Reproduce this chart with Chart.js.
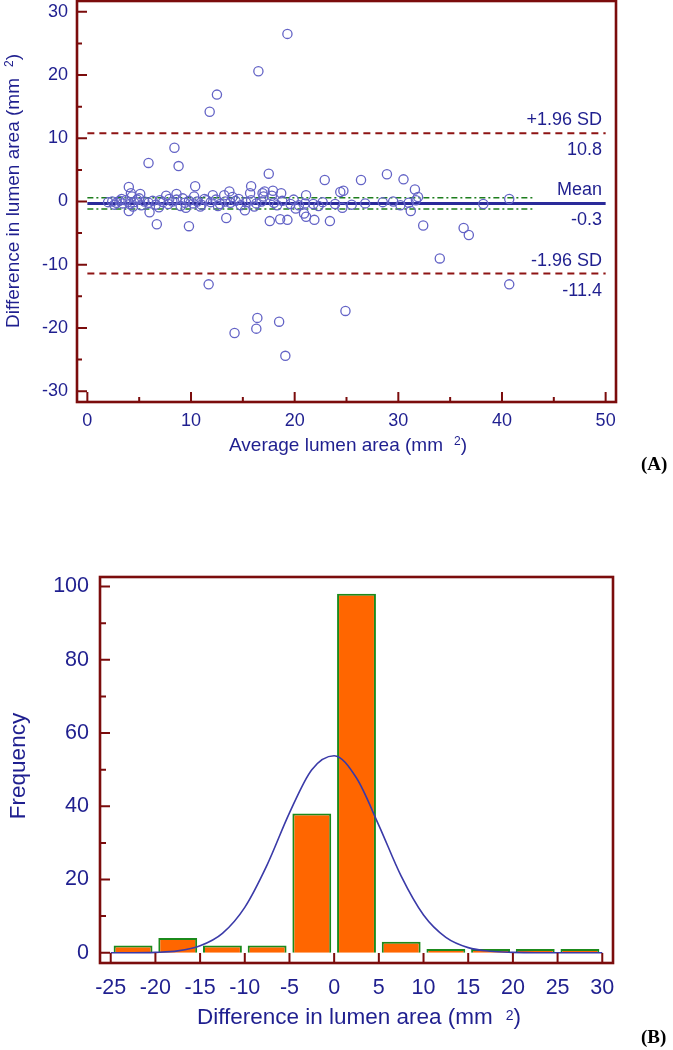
<!DOCTYPE html>
<html><head><meta charset="utf-8">
<script src="https://cdn.jsdelivr.net/npm/chart.js@4.4.0/dist/chart.umd.min.js"></script>
<style>
html,body{margin:0;padding:0;background:#fff;}
#wrap{position:relative;width:673px;height:1050px;overflow:hidden;}
#ca{position:absolute;left:0;top:0;}
#cb{position:absolute;left:0;top:470px;}
</style></head><body>
<div id="wrap">
<canvas id="ca" width="673" height="480"></canvas>
<canvas id="cb" width="673" height="580"></canvas>
</div>
<script>
// ---------- Data: panel A (Bland-Altman) ----------
const avgArea = [
19.3,16.5,12.5,11.8,8.4,5.9,8.8,17.5,22.9,26.4,
28.9,30.5,4.0,10.4,15.8,31.6,5.1,4.2,7.6,8.6,
13.7,17.1,17.9,18.7,21.1,24.4,24.7,31.9,40.7,4.3,
10.3,12.1,13.2,14.0,15.7,16.9,17.0,17.8,
4.0,6.0,6.7,9.8,9.5,13.4,15.2,17.6,18.6,19.3,
20.1,20.9,21.1,21.9,23.4,24.6,31.2,32.4,36.3,36.8,
34.0,40.7,24.9,11.7,14.2,16.4,16.3,18.5,19.1,38.2,
28.5,30.2,21.8,22.7,23.9,31.7,
2.0,2.4,2.8,3.1,3.4,3.7,4.1,4.5,4.8,5.2,
5.5,5.9,6.3,6.6,7.0,7.3,7.8,8.2,8.6,9.0,
9.4,9.8,10.2,10.6,11.0,11.5,11.9,12.4,12.8,13.3,
13.8,14.3,14.8,15.3,15.8,16.3,16.8,18.0,18.8,19.6,
20.4,21.0,25.5,29.5,31.0,
2.6,3.3,4.4,5.0,6.9,7.9,9.2,10.9,11.3,12.6,14.6,16.1,18.3,19.9,22.3,26.8
];
const diffArea = [
26.5,20.6,16.9,14.2,8.5,6.1,5.6,4.4,3.4,3.4,
4.3,3.5,2.3,2.4,2.4,1.9,1.2,1.3,0.9,1.2,
1.6,1.6,1.7,1.3,1.0,1.5,1.7,0.7,0.4,0.8,
0.8,1.0,1.0,0.7,1.3,1.3,0.8,0.9,
-1.5,-1.7,-3.6,-3.9,-1.0,-2.6,-1.4,-3.1,-2.8,-2.9,
-1.1,-1.9,-2.4,-2.9,-3.1,-1.0,-1.5,-3.8,-4.2,-5.3,
-9.0,-13.1,-17.3,-13.1,-20.8,-18.4,-20.1,-19.0,-24.4,-0.4,
-0.1,-0.6,-0.4,-0.1,-0.4,0.2,
-0.1,0.0,-0.2,0.1,-0.3,0.2,-0.4,-0.1,0.3,-0.6,
0.0,-0.2,0.1,-0.5,0.2,-0.1,-0.4,0.0,0.3,-0.7,
-0.2,0.1,-0.3,0.0,-0.5,0.2,-0.1,0.3,-0.4,0.0,
-0.2,0.1,-0.6,-0.1,0.2,-0.3,0.0,-0.2,0.1,-0.4,
-0.6,-0.3,-0.5,0.0,-0.2,
-0.5,0.4,-0.8,0.5,-0.9,0.4,0.5,-0.8,0.4,-0.7,0.4,-0.8,-0.6,0.3,-0.7,-0.3
];
const meanDiff = -0.3;
const upperLoA = 10.8;
const lowerLoA = -11.4;
const ciUpper = 0.6;
const ciLower = -1.2;
const refLineX = [0, 50];
const ciLineX = [0, 43];
const scatterXTicks = [0, 10, 20, 30, 40, 50];
const scatterXMinor = [5, 15, 25, 35, 45];
const scatterYTicks = [-30, -20, -10, 0, 10, 20, 30];
const scatterYMinor = [-25, -15, -5, 5, 15, 25];

// ---------- Data: panel B (histogram) ----------
const binCenters = [-22.5, -17.5, -12.5, -7.5, -2.5, 2.5, 7.5, 12.5, 17.5, 22.5, 27.5];
const binCounts  = [2, 4, 2, 2, 38, 98, 3, 1, 1, 1, 1];
const curveX = [-25,-22.5,-20,-17.5,-15,-12.5,-10,-7.5,-5,-2.5,0,2.5,5,7.5,10,12.5,15,17.5,20,22.5,25,27.5,30];
const curveY = [0,0,0.1,0.5,1.9,5.3,12.4,24,38.2,50,53.8,47.7,34.8,20.9,10.3,4.2,1.4,0.4,0.1,0,0,0,0];
const histXTicks = [-25,-20,-15,-10,-5,0,5,10,15,20,25,30];
const histYTicks = [0, 20, 40, 60, 80, 100];
const histYMinor = [10, 30, 50, 70, 90];

// ---------- Styling ----------
const AXIS_COLOR = '#7b0c0c';
const TEXT_COLOR = '#1f1f8f';
const FONT = '"Liberation Sans", Arial, sans-serif';
Chart.defaults.font.family = FONT;
Chart.defaults.color = TEXT_COLOR;

function frameAndTicks(chart, spec) {
  const ctx = chart.ctx, a = chart.chartArea, xs = chart.scales.x, ys = chart.scales.y;
  ctx.save();
  ctx.strokeStyle = AXIS_COLOR;
  ctx.lineWidth = 2;
  ctx.beginPath();
  spec.xMajor.forEach(v => { const p = xs.getPixelForValue(v); ctx.moveTo(p, a.bottom); ctx.lineTo(p, a.bottom - spec.xMajorLen); });
  spec.xMinor.forEach(v => { const p = xs.getPixelForValue(v); ctx.moveTo(p, a.bottom); ctx.lineTo(p, a.bottom - spec.xMinorLen); });
  spec.yMajor.forEach(v => { const p = ys.getPixelForValue(v); ctx.moveTo(a.left, p); ctx.lineTo(a.left + spec.yMajorLen, p); });
  spec.yMinor.forEach(v => { const p = ys.getPixelForValue(v); ctx.moveTo(a.left, p); ctx.lineTo(a.left + spec.yMinorLen, p); });
  ctx.stroke();
  ctx.lineWidth = 2.6;
  ctx.strokeRect(a.left, a.top, a.right - a.left, a.bottom - a.top);
  ctx.restore();
}

function supTitle(ctx, parts, o) {
  ctx.save();
  ctx.fillStyle = TEXT_COLOR;
  ctx.textBaseline = 'alphabetic';
  ctx.textAlign = 'left';
  const mf = o.size + 'px ' + FONT, sf = o.supSize + 'px ' + FONT;
  ctx.font = mf;
  const w1 = ctx.measureText(parts[0]).width, wt = ctx.measureText(parts[2]).width;
  ctx.font = sf;
  const ws = ctx.measureText(parts[1]).width;
  const total = w1 + o.gap + ws + wt;
  ctx.translate(o.x, o.y);
  if (o.rotate) ctx.rotate(-Math.PI / 2);
  let x = -total / 2;
  ctx.font = mf; ctx.fillText(parts[0], x, 0); x += w1 + o.gap;
  ctx.font = sf; ctx.fillText(parts[1], x, -o.rise); x += ws;
  ctx.font = mf; ctx.fillText(parts[2], x, 0);
  ctx.restore();
}

function plainText(ctx, text, x, y, font, align, color, rotate) {
  ctx.save();
  ctx.fillStyle = color || TEXT_COLOR;
  ctx.font = font;
  ctx.textAlign = align || 'left';
  ctx.textBaseline = 'alphabetic';
  ctx.translate(x, y);
  if (rotate) ctx.rotate(-Math.PI / 2);
  ctx.fillText(text, 0, 0);
  ctx.restore();
}

const plotA = {
  id: 'plotA',
  afterDraw(chart) {
    frameAndTicks(chart, {
      xMajor: scatterXTicks, xMinor: scatterXMinor, xMajorLen: 10, xMinorLen: 5,
      yMajor: scatterYTicks, yMinor: scatterYMinor, yMajorLen: 10, yMinorLen: 5
    });
    const ctx = chart.ctx, ys = chart.scales.y;
    const f = '18px ' + FONT, rx = 602;
    plainText(ctx, '+1.96 SD', rx, ys.getPixelForValue(upperLoA) - 8, f, 'right');
    plainText(ctx, upperLoA.toFixed(1), rx, ys.getPixelForValue(upperLoA) + 22, f, 'right');
    plainText(ctx, 'Mean', rx, ys.getPixelForValue(meanDiff) - 8, f, 'right');
    plainText(ctx, meanDiff.toFixed(1), rx, ys.getPixelForValue(meanDiff) + 22, f, 'right');
    plainText(ctx, '-1.96 SD', rx, ys.getPixelForValue(lowerLoA) - 8, f, 'right');
    plainText(ctx, lowerLoA.toFixed(1), rx, ys.getPixelForValue(lowerLoA) + 22, f, 'right');
    supTitle(ctx, ['Average lumen area (mm', '2', ')'], {x: 348, y: 451, size: 19, supSize: 12, gap: 11, rise: 6});
    supTitle(ctx, ['Difference in lumen area (mm', '2', ')'], {x: 19, y: 191, size: 19, supSize: 12, gap: 11, rise: 6, rotate: true});
    plainText(ctx, '(A)', 641, 470, 'bold 19px "Liberation Serif", "Times New Roman", serif', 'left', '#000');
  }
};

const plotB = {
  id: 'plotB',
  afterDraw(chart) {
    frameAndTicks(chart, {
      xMajor: histXTicks, xMinor: [], xMajorLen: 10, xMinorLen: 0,
      yMajor: histYTicks, yMinor: histYMinor, yMajorLen: 10, yMinorLen: 6
    });
    const ctx = chart.ctx;
    supTitle(ctx, ['Difference in lumen area (mm', '2', ')'], {x: 359, y: 554, size: 22.5, supSize: 14, gap: 13, rise: 4});
    plainText(ctx, 'Frequency', 25, 296, '22.5px ' + FONT, 'center', TEXT_COLOR, true);
    plainText(ctx, '(B)', 641, 573, 'bold 19px "Liberation Serif", "Times New Roman", serif', 'left', '#000');
  }
};

function hLine(x0x1, y, color, width, dash) {
  return {
    type: 'line',
    data: [{x: x0x1[0], y: y}, {x: x0x1[1], y: y}],
    borderColor: color, borderWidth: width, borderDash: dash || [],
    pointRadius: 0, fill: false, showLine: true, tension: 0
  };
}

function noPadY(s, w) { s.width = w; s.paddingTop = 0; s.paddingBottom = 0; }
function noPadX(s, h) { s.height = h; s.paddingLeft = 0; s.paddingRight = 0; }

new Chart(document.getElementById('ca'), {
  type: 'scatter',
  data: {
    datasets: [
      {
        data: avgArea.map((x, i) => ({x: x, y: diffArea[i]})),
        pointRadius: 4.6, pointBorderWidth: 1.3,
        pointBorderColor: '#6363c6', pointBackgroundColor: 'rgba(0,0,0,0)',
        showLine: false
      },
      hLine(refLineX, upperLoA, '#8e1414', 2, [7, 5]),
      hLine(refLineX, lowerLoA, '#8e1414', 2, [7, 5]),
      hLine(refLineX, meanDiff, '#2a2a9a', 3),
      hLine(ciLineX, ciUpper, '#1d7d1d', 1.5, [6, 3, 2, 3]),
      hLine(ciLineX, ciLower, '#1d7d1d', 1.5, [6, 3, 2, 3])
    ]
  },
  options: {
    responsive: false, animation: false, events: [],
    layout: {autoPadding: false, padding: {left: 0, top: 1, right: 57, bottom: 0}},
    plugins: {legend: {display: false}, tooltip: {enabled: false}},
    scales: {
      x: {
        type: 'linear', min: -1, max: 51,
        afterFit(s) { noPadX(s, 78); },
        afterBuildTicks(s) { s.ticks = scatterXTicks.map(v => ({value: v})); },
        grid: {display: false, drawTicks: false}, border: {display: false},
        ticks: {color: TEXT_COLOR, font: {size: 18}, padding: 8, maxRotation: 0, autoSkip: false}
      },
      y: {
        type: 'linear', min: -31.7, max: 31.7,
        afterFit(s) { noPadY(s, 77); },
        afterBuildTicks(s) { s.ticks = scatterYTicks.map(v => ({value: v})); },
        grid: {display: false, drawTicks: false}, border: {display: false},
        ticks: {color: TEXT_COLOR, font: {size: 18}, padding: 9, autoSkip: false}
      }
    }
  },
  plugins: [plotA]
});

new Chart(document.getElementById('cb'), {
  type: 'bar',
  data: {
    datasets: [
      {
        type: 'line',
        data: curveX.map((x, i) => ({x: x, y: curveY[i]})),
        borderColor: '#3a3aa8', borderWidth: 1.6, pointRadius: 0,
        cubicInterpolationMode: 'monotone', fill: false, order: 0
      },
      {
        type: 'bar',
        data: binCenters.map((x, i) => ({x: x, y: binCounts[i]})),
        backgroundColor: '#ff6600', borderColor: '#1b8a1b', borderWidth: 2,
        barPercentage: 0.87, categoryPercentage: 1, order: 1
      }
    ]
  },
  options: {
    responsive: false, animation: false, events: [],
    layout: {autoPadding: false, padding: {left: 0, top: 107, right: 60, bottom: 0}},
    plugins: {legend: {display: false}, tooltip: {enabled: false}},
    scales: {
      x: {
        type: 'linear', min: -26.2, max: 31.2, offset: false,
        afterFit(s) { noPadX(s, 87); },
        afterBuildTicks(s) { s.ticks = histXTicks.map(v => ({value: v})); },
        grid: {display: false, drawTicks: false, offset: false}, border: {display: false},
        ticks: {color: TEXT_COLOR, font: {size: 21.5}, padding: 12, maxRotation: 0, autoSkip: false}
      },
      y: {
        type: 'linear', min: -2.8, max: 102.6,
        afterFit(s) { noPadY(s, 100); },
        afterBuildTicks(s) { s.ticks = histYTicks.map(v => ({value: v})); },
        grid: {display: false, drawTicks: false}, border: {display: false},
        ticks: {color: TEXT_COLOR, font: {size: 21.5}, padding: 11, autoSkip: false}
      }
    }
  },
  plugins: [plotB]
});
</script>
</body></html>
